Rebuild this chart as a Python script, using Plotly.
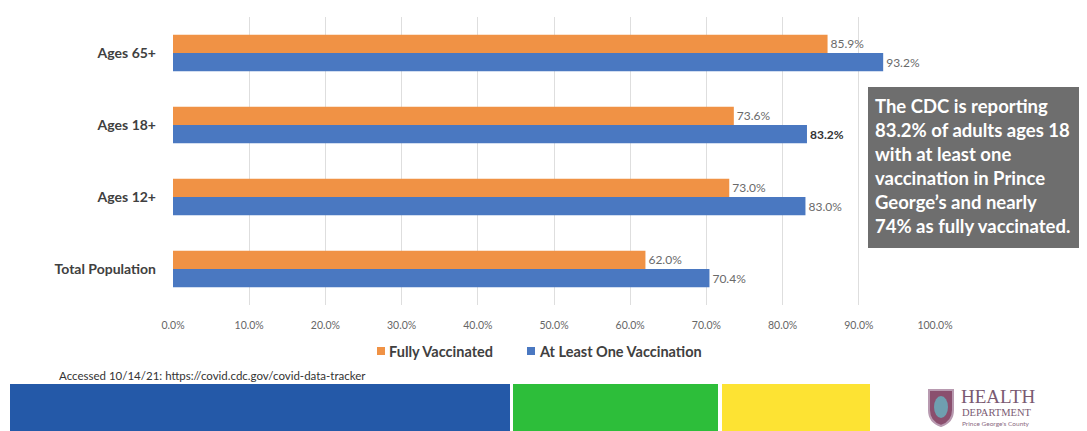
import plotly.graph_objects as go

categories = ["Ages 65+", "Ages 18+", "Ages 12+", "Total Population"]
fully_vaccinated = [85.9, 73.6, 73.0, 62.0]
at_least_one = [93.2, 83.2, 83.0, 70.4]
tick_vals = [0, 10, 20, 30, 40, 50, 60, 70, 80, 90, 100]
tick_text = [f"{v:.1f}%" for v in tick_vals]
series_names = ["Fully Vaccinated", "At Least One Vaccination"]
note_lines = ["The CDC is reporting", "83.2% of adults ages 18", "with at least one",
              "vaccination in Prince", "George\u2019s and nearly", "74% as fully vaccinated."]
source_text = "Accessed 10/14/21: https://covid.cdc.gov/covid-data-tracker"

O = 8  # page body offset
W, H = 1087 - O, 431 - O
# plot area in reference image pixels
RL, RR, RT, RB = 173, 935, 17, 305
L, R, T, B = RL - O, RR - O, RT - O, RB - O

def px(x):
    return (x - RL) / (RR - RL)

def py(y):
    return (RB - y) / (RB - RT)

FONT = "Lato, 'Open Sans', sans-serif"
ORANGE = "#F09245"
BLUE = "#4A78C1"

def labels(vals, bold_idx=None):
    out = []
    for i, v in enumerate(vals):
        s = f"{v:.1f}%"
        out.append(f"<b>{s}</b>" if i == bold_idx else s)
    return out

fig = go.Figure()
fig.add_trace(go.Bar(
    y=categories, x=fully_vaccinated, orientation="h", name=series_names[0],
    marker=dict(color=ORANGE, line=dict(width=0)),
    text=labels(fully_vaccinated), textposition="outside", cliponaxis=False,
    textfont=dict(family=FONT, size=12, color="#6a6a6a"),
))
fig.add_trace(go.Bar(
    y=categories, x=at_least_one, orientation="h", name=series_names[1],
    marker=dict(color=BLUE, line=dict(width=0)),
    text=labels(at_least_one, bold_idx=1), textposition="outside", cliponaxis=False,
    textfont=dict(family=FONT, size=12, color=["#6a6a6a", "#333333", "#6a6a6a", "#6a6a6a"]),
))

shapes = []
annotations = []
# gray note box
shapes.append(dict(type="rect", xref="paper", yref="paper",
                   x0=px(868), x1=px(1095), y0=py(248), y1=py(87),
                   fillcolor="#6e6e6e", line=dict(width=0), layer="above"))
annotations.append(dict(xref="paper", yref="paper", x=px(873), y=py(166),
                        xanchor="left", yanchor="middle", align="left", showarrow=False,
                        text="<br>".join(note_lines),
                        font=dict(family=FONT, size=18.5, color="white", weight="bold")))
# custom legend
leg = [(377, 386, ORANGE, series_names[0]), (527, 536, BLUE, series_names[1])]
for x0, tx, c, name in leg:
    shapes.append(dict(type="rect", xref="paper", yref="paper",
                       x0=px(x0), x1=px(x0 + 8), y0=py(355), y1=py(347),
                       fillcolor=c, line=dict(width=0)))
    annotations.append(dict(xref="paper", yref="paper", x=px(tx + 1), y=py(351),
                            xanchor="left", yanchor="middle", showarrow=False, text=name,
                            font=dict(family=FONT, size=14.5, color="#404040", weight="bold")))
# source text
annotations.append(dict(xref="paper", yref="paper", x=px(57), y=py(375),
                        xanchor="left", yanchor="middle", showarrow=False, text=source_text,
                        font=dict(family=FONT, size=11.5, color="#333333")))
# bottom colour bands
for x0, x1, c in [(10, 510, "#2459A8"), (513, 718, "#2DBE3A"), (722, 870, "#FDE333")]:
    shapes.append(dict(type="rect", xref="paper", yref="paper",
                       x0=px(x0), x1=px(x1), y0=py(440), y1=py(384),
                       fillcolor=c, line=dict(width=0)))
# logo
shapes.append(dict(type="path", xref="paper", yref="paper",
                   path=(f"M {px(929)},{py(390)} L {px(953)},{py(390)} L {px(953)},{py(410)} "
                         f"Q {px(953)},{py(422)} {px(941)},{py(426)} Q {px(929)},{py(422)} {px(929)},{py(410)} Z"),
                   fillcolor="#8a4f6e", line=dict(color="#b89ab0", width=2)))
shapes.append(dict(type="circle", xref="paper", yref="paper",
                   x0=px(934), x1=px(948), y0=py(418), y1=py(396),
                   fillcolor="#6f9fb0", line=dict(width=0)))
annotations.append(dict(xref="paper", yref="paper", x=px(959), y=py(396),
                        xanchor="left", yanchor="middle", showarrow=False, text="HEALTH",
                        font=dict(family="'Liberation Serif', serif", size=19, color="#7a5a72")))
annotations.append(dict(xref="paper", yref="paper", x=px(960), y=py(412.5),
                        xanchor="left", yanchor="middle", showarrow=False, text="DEPARTMENT",
                        font=dict(family="'Liberation Serif', serif", size=10.5, color="#7a5a72")))
annotations.append(dict(xref="paper", yref="paper", x=px(960), y=py(423),
                        xanchor="left", yanchor="middle", showarrow=False, text="Prince George's County",
                        font=dict(family=FONT, size=6.5, color="#8a6a82")))

fig.update_layout(
    width=W, height=H,
    margin=dict(l=L, r=W - R, t=T, b=H - B, pad=0),
    paper_bgcolor="white", plot_bgcolor="white",
    barmode="group", bargap=0.49, bargroupgap=0,
    font=dict(family=FONT),
    showlegend=False,
    shapes=shapes, annotations=annotations,
)
fig.update_xaxes(range=[0, 100], tickvals=tick_vals, ticktext=tick_text,
                 showgrid=True, gridcolor="#dedede", gridwidth=1, zeroline=False,
                 showline=False, ticks="", ticklabelstandoff=12,
                 tickfont=dict(family=FONT, size=10.5, color="#666666"), fixedrange=True)
fig.update_yaxes(categoryorder="array", categoryarray=categories, autorange="reversed",
                 showgrid=False, zeroline=False, showline=False, ticks="",
                 ticklabelstandoff=16,
                 tickfont=dict(family=FONT, size=14, color="#404040", weight="bold"), fixedrange=True)

fig.write_html("out.html")
